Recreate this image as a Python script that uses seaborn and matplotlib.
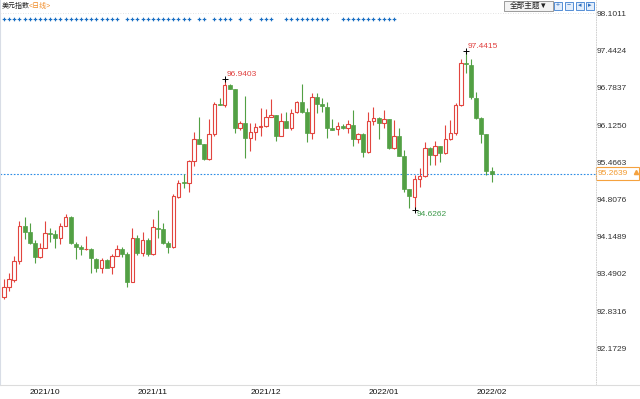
import numpy as np
import pandas as pd
import matplotlib.pyplot as plt
import seaborn as sns
from matplotlib.lines import Line2D
from matplotlib.patches import Rectangle
from matplotlib.transforms import blended_transform_factory

# daily OHLC of the dollar index, 2021-09-24 .. 2022-02-04
opens = [93.08, 93.26, 93.38, 93.72, 94.34, 94.23, 94.04, 93.79, 93.95, 94.21,
         94.20, 94.13, 94.34, 94.50, 94.02, 93.97, 93.925, 93.93, 93.75, 93.59,
         93.74, 93.61, 93.81, 93.93, 93.84, 93.35, 94.13, 93.86, 94.09, 93.84,
         94.30, 94.285, 94.04, 93.97, 94.85, 95.115, 95.10, 95.49, 95.88, 95.79,
         95.52, 95.97, 96.50, 96.48, 96.84, 96.76, 96.07, 96.16, 95.90, 96.00,
         96.09, 96.11, 96.27, 96.30, 95.93, 96.20, 96.07, 96.36, 96.53, 96.36,
         95.99, 96.62, 96.50, 96.45, 96.07, 96.06, 96.11, 96.07, 96.13, 95.88,
         95.97, 95.65, 96.20, 96.25, 96.16, 96.23, 95.72, 95.93, 95.58, 94.99,
         94.85, 95.17, 95.22, 95.72, 95.60, 95.76, 95.63, 95.88, 95.99, 96.48,
         97.22, 97.19, 96.61, 96.25, 95.97, 95.31]
highs = [93.40, 93.51, 93.81, 94.43, 94.50, 94.39, 94.09, 94.04, 94.43, 94.30,
         94.27, 94.39, 94.55, 94.52, 94.05, 94.00, 94.16, 93.95, 93.77, 93.77,
         93.75, 93.84, 94.00, 93.97, 93.88, 94.30, 94.18, 94.23, 94.13, 94.46,
         94.62, 94.39, 94.07, 94.90, 95.15, 95.26, 95.51, 96.00, 96.27, 95.79,
         96.23, 96.53, 96.61, 96.9403, 96.845, 96.77, 96.20, 96.64, 96.16, 96.16,
         96.43, 96.41, 96.59, 96.31, 96.34, 96.36, 96.41, 96.55, 96.85, 96.43,
         96.69, 96.69, 96.61, 96.53, 96.23, 96.18, 96.14, 96.22, 96.39, 95.99,
         95.99, 96.36, 96.45, 96.27, 96.39, 96.24, 96.22, 96.07, 95.68, 95.00,
         95.24, 95.37, 95.83, 95.74, 95.84, 95.76, 96.13, 96.22, 96.52, 97.30,
         97.4415, 97.30, 96.71, 96.27, 95.97, 95.38]
lows = [93.05, 93.19, 93.35, 93.67, 94.11, 94.02, 93.68, 93.78, 93.94, 94.05,
        93.95, 94.02, 94.33, 94.02, 93.75, 93.82, 93.91, 93.51, 93.52, 93.51,
        93.63, 93.49, 93.80, 93.79, 93.26, 93.34, 93.82, 93.81, 93.81, 93.82,
        94.13, 94.02, 93.86, 93.95, 94.83, 95.01, 94.94, 95.40, 95.79, 95.51,
        95.51, 95.93, 96.48, 96.45, 96.76, 95.99, 96.04, 95.54, 95.67, 95.86,
        95.93, 96.09, 96.265, 95.84, 95.925, 96.07, 96.04, 96.34, 96.34, 95.83,
        95.88, 96.34, 96.36, 95.90, 96.03, 95.95, 96.06, 95.99, 95.76, 95.81,
        95.56, 95.63, 96.13, 95.88, 96.07, 95.71, 95.71, 95.57, 94.94, 94.66,
        94.6262, 95.03, 95.21, 95.42, 95.42, 95.47, 95.62, 95.86, 95.95, 96.46,
        97.05, 96.59, 96.23, 95.81, 95.24, 95.12]
closes = [93.26, 93.40, 93.72, 94.34, 94.23, 94.04, 93.79, 93.95, 94.21, 94.20,
          94.13, 94.34, 94.50, 94.04, 93.97, 93.93, 93.935, 93.77, 93.59, 93.74,
          93.59, 93.81, 93.93, 93.84, 93.35, 94.13, 93.86, 94.09, 93.84, 94.32,
          94.285, 94.04, 93.97, 94.87, 95.10, 95.10, 95.49, 95.88, 95.79, 95.52,
          95.97, 96.50, 96.48, 96.84, 96.76, 96.07, 96.16, 95.90, 96.00, 96.09,
          96.11, 96.27, 96.30, 95.93, 96.20, 96.07, 96.34, 96.53, 96.36, 95.99,
          96.62, 96.50, 96.46, 96.07, 96.04, 96.11, 96.07, 96.14, 95.88, 95.97,
          95.65, 96.20, 96.25, 96.16, 96.23, 95.72, 95.93, 95.58, 94.99, 94.87,
          95.17, 95.22, 95.72, 95.60, 95.76, 95.63, 95.88, 95.99, 96.48, 97.22,
          97.21, 96.62, 96.25, 95.97, 95.31, 95.2639]

price_ticks = [98.1011, 97.4424, 96.7837, 96.1250, 95.4663,
               94.8076, 94.1489, 93.4902, 92.8316, 92.1729]

# days that carry an event dot in the strip at the top
event_days = (list(range(0, 23)) + list(range(24, 37)) + [38, 39] +
              list(range(41, 45)) + [46, 48] + list(range(50, 53)) +
              list(range(55, 64)) + list(range(66, 77)))

df = pd.DataFrame({
    "date": pd.bdate_range("2021-09-24", periods=len(closes)),
    "open": opens, "high": highs, "low": lows, "close": closes,
})
df["i"] = np.arange(len(df))
up = (df["close"] >= df["open"]).values

RED = "#e2453f"
GREEN = "#52a044"
W, H = 640, 399

sns.set_style("white")
plt.rcParams["font.family"] = ["Liberation Sans", "Noto Sans CJK SC", "DejaVu Sans"]

fig = plt.figure(figsize=(6.4, 3.99), dpi=100)
ax = fig.add_axes([0, (H - 385.3) / H, 595.7 / W, 385.3 / H])

# wicks, then bodies (hollow red up, filled green down)
ax.vlines(df["i"], df["low"], df["high"], colors=np.where(up, RED, GREEN),
          lw=0.8, zorder=2)
body_lo = np.minimum(df["open"], df["close"])
body_h = (df["close"] - df["open"]).abs()
ax.bar(df["i"][up], body_h[up], bottom=body_lo[up], width=0.7,
       facecolor="white", edgecolor=RED, lw=0.8, zorder=3)
ax.bar(df["i"][~up], body_h[~up], bottom=body_lo[~up], width=0.78,
       color=GREEN, edgecolor=GREEN, lw=0.5, zorder=3)

ax.set_xlim(-0.78, 115.3)
ax.set_ylim(91.517, 98.34)

# last price line + tag
last = df["close"].iloc[-1]
ax.axhline(last, color="#2b8ce6", lw=0.8, ls=(0, (1.5, 1.5)), zorder=1)
ax.axhline(price_ticks[0], color="#d9d9d9", lw=0.6, ls=(0, (1, 2)), zorder=0)
bt = blended_transform_factory(ax.transAxes, ax.transData)
ax.add_patch(Rectangle((1.0, last - 0.115), 0.073, 0.23, transform=bt,
                       fill=False, ec="#f5a23f", lw=0.8, clip_on=False))
ax.text(1.003, last, f"{last:.4f}", transform=bt, ha="left", va="center",
        fontsize=6, color="#f39a2e", clip_on=False)
ax.plot([1.068], [last + 0.03], transform=bt, marker="^", ms=3,
        color="#f5a23f", clip_on=False)

# event strip
ax.plot(event_days, np.full(len(event_days), 0.9515), ls="none",
        transform=ax.get_xaxis_transform(), marker="P", ms=2.6,
        mew=0, color="#1a6fc4", clip_on=False, zorder=4)

# high / low marks (first-leg peak, overall peak, January trough)
hi = int(df["high"].idxmax())
hi2 = int(df["high"].iloc[:60].idxmax())
lo = int(df["low"].iloc[60:].idxmin())
sns.scatterplot(x=[hi, hi2, lo], y=[highs[hi], highs[hi2], lows[lo]],
                marker="+", color="black", s=14, linewidth=0.7, ax=ax,
                zorder=5, legend=False)
for k in (hi, hi2):
    ax.annotate(f"{highs[k]:.4f}", (k, highs[k]), xytext=(1.5, 0.5),
                textcoords="offset points", ha="left", va="bottom",
                fontsize=6, color="#e0403f")
ax.annotate(f"{lows[lo]:.4f}", (lo, lows[lo]), xytext=(1.5, -1),
            textcoords="offset points", ha="left", va="top",
            fontsize=6, color="#3f9a4b")

# axes styling
ax.yaxis.tick_right()
ax.set_yticks(price_ticks)
ax.set_yticklabels([f"{v:.4f}" for v in price_ticks])
ax.tick_params(axis="y", length=0, pad=1, labelsize=6, labelcolor="#333333")

month_start = [i for i in range(1, len(df))
               if df["date"].iloc[i].month != df["date"].iloc[i - 1].month]
ax.set_xticks(month_start)
ax.set_xticklabels([df["date"].iloc[i].strftime("%Y/%m") for i in month_start],
                   ha="left")
ax.tick_params(axis="x", length=0, pad=2.4, labelsize=6, labelcolor="#111111")

ax.spines["top"].set_visible(False)
ax.spines["bottom"].set_visible(False)
ax.spines["left"].set_color("#d8dde6")
ax.spines["left"].set_linewidth(0.8)
ax.spines["right"].set_color("#c8c8c8")
ax.spines["right"].set_linewidth(0.6)
ax.spines["right"].set_linestyle((0, (1, 2)))
ax.set_xlabel("")
ax.set_ylabel("")
ax.grid(False)

fig.add_artist(Line2D([0, 1], [(H - 385.3) / H] * 2, transform=fig.transFigure,
                      color="#dcdcdc", lw=0.8))

# header
fig.text(2 / W, 1 - 6.5 / H, "美元指数", fontsize=5, va="center", color="#222222")
fig.text(29 / W, 1 - 6.5 / H, "<日线>", fontsize=5, va="center", color="#f08a24")

fig.add_artist(Rectangle((504 / W, 1 - 10.5 / H), 49 / W, 9.5 / H,
                         transform=fig.transFigure, fc="#f3f3f3",
                         ec="#8c8c8c", lw=0.6))
fig.text(528.5 / W, 1 - 5.8 / H, "全部主题▼", fontsize=5.5, ha="center",
         va="center", color="#222222")
for x0, g in zip([554, 565, 576, 586], ["+", "−", "◂", "▸"]):
    fig.add_artist(Rectangle((x0 / W, 1 - 9.5 / H), 8 / W, 8 / H,
                             transform=fig.transFigure, fc="#e3eefb",
                             ec="#3d7fd0", lw=0.6))
    fig.text((x0 + 4) / W, 1 - 5.5 / H, g, fontsize=5, ha="center",
             va="center", color="#2f6fc0")

fig.savefig("out.png", dpi=100)
